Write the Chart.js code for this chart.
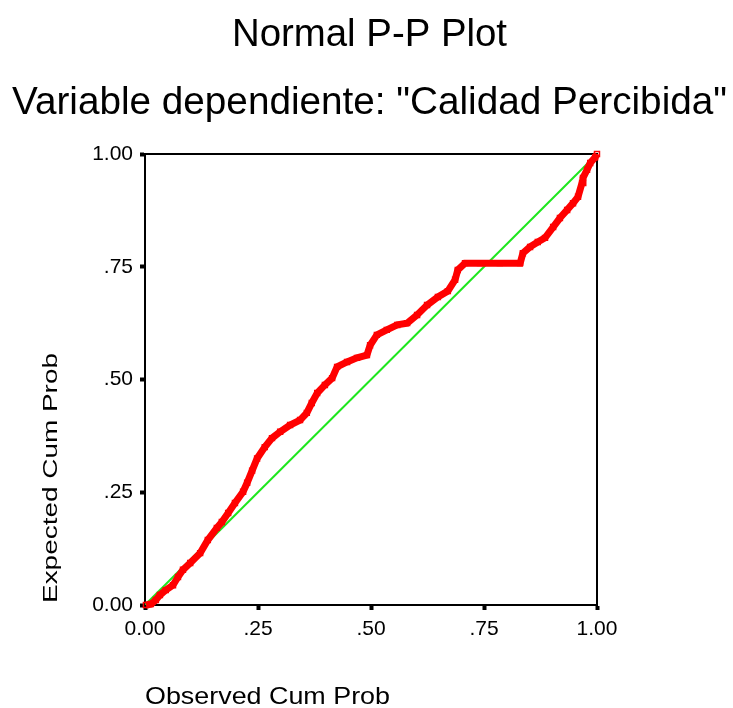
<!DOCTYPE html>
<html>
<head>
<meta charset="utf-8">
<script src="https://cdn.jsdelivr.net/npm/chart.js@4/dist/chart.umd.min.js"></script>
<style>
  html, body { margin: 0; padding: 0; background: #fff; }
  #wrap { width: 733px; height: 708px; }
</style>
</head>
<body>
<div id="wrap"><canvas id="pp"></canvas></div>
<script>
// Normal P-P Plot

const titleMain = 'Normal P-P Plot';
const titleSub = 'Variable dependiente: "Calidad Percibida"';
const xTitle = 'Observed Cum Prob';
const yTitle = 'Expected Cum Prob';

const tickValues = [0, 0.25, 0.5, 0.75, 1];
const tickLabels = ['0.00', '.25', '.50', '.75', '1.00'];

// observed cumulative probability (x)
const observedCum = [
  0.002, 0.013, 0.024, 0.033, 0.046, 0.062, 0.073, 0.084, 0.100, 0.122,
  0.139, 0.159, 0.170, 0.184, 0.199, 0.217, 0.226, 0.237, 0.248, 0.265,
  0.281, 0.299, 0.321, 0.343, 0.358, 0.369, 0.381, 0.398, 0.414, 0.425,
  0.447, 0.469, 0.491, 0.498, 0.513, 0.535, 0.558, 0.580, 0.602, 0.624,
  0.648, 0.670, 0.686, 0.692, 0.708, 0.741, 0.785, 0.830, 0.836, 0.852,
  0.869, 0.885, 0.903, 0.918, 0.934, 0.947, 0.958, 0.967, 0.969, 0.978,
  0.985, 0.996, 1.000
];
// expected cumulative probability (y)
const expectedCum = [
  0.000, 0.002, 0.011, 0.022, 0.033, 0.044, 0.062, 0.078, 0.093, 0.115,
  0.144, 0.171, 0.184, 0.204, 0.226, 0.251, 0.271, 0.298, 0.325, 0.350,
  0.370, 0.384, 0.399, 0.410, 0.426, 0.448, 0.470, 0.488, 0.503, 0.528,
  0.539, 0.548, 0.554, 0.576, 0.599, 0.610, 0.621, 0.625, 0.643, 0.665,
  0.683, 0.696, 0.721, 0.743, 0.758, 0.758, 0.758, 0.758, 0.780, 0.794,
  0.805, 0.814, 0.838, 0.858, 0.876, 0.891, 0.905, 0.936, 0.947, 0.965,
  0.980, 0.993, 1.000
];

const refX = [0, 1];
const refY = [0, 1];

const FONT = '"Liberation Sans", Arial, sans-serif';

// draws a text stretched to a given width
function fitText(ctx, txt, size, width){
  ctx.font = size + 'px ' + FONT;
  const w = ctx.measureText(txt).width;
  ctx.save();
  ctx.scale(width / w, 1);
  ctx.fillText(txt, 0, 0);
  ctx.restore();
}

const textPlugin = {
  id: 'spssText',
  beforeDatasetsDraw(chart){
    const { ctx, chartArea: a } = chart;
    ctx.save();
    ctx.strokeStyle = '#000';
    ctx.lineWidth = 2;
    ctx.strokeRect(a.left, a.top, a.right - a.left, a.bottom - a.top);
    ctx.restore();
  },
  afterDraw(chart){
    const ctx = chart.ctx;
    ctx.save();
    ctx.fillStyle = '#000';
    ctx.textBaseline = 'alphabetic';
    ctx.textAlign = 'left';

    ctx.save(); ctx.translate(232, 46); fitText(ctx, titleMain, 38, 275); ctx.restore();
    ctx.save(); ctx.translate(12, 114); fitText(ctx, titleSub, 38, 715); ctx.restore();

    ctx.save(); ctx.translate(145, 704); fitText(ctx, xTitle, 24, 245); ctx.restore();

    ctx.save(); ctx.translate(57, 603); ctx.rotate(-Math.PI / 2);
    fitText(ctx, yTitle, 20, 250); ctx.restore();

    ctx.restore();
  }
};

const axisCommon = {
  type: 'linear',
  min: 0,
  max: 1,
  border: { display: true, color: '#000', width: 2 },
  grid: {
    drawOnChartArea: false,
    drawTicks: true,
    color: '#000',
    tickLength: 5,
    tickWidth: 4,
    tickColor: '#000'
  },
  ticks: {
    stepSize: 0.25,
    color: '#000',
    font: { family: FONT, size: 21 },
    autoSkip: false,
    maxRotation: 0,
    callback: v => tickLabels[tickValues.indexOf(Math.round(v * 100) / 100)]
  }
};

new Chart(document.getElementById('pp'), {
  type: 'scatter',
  data: {
    datasets: [
      {
        label: 'observed',
        data: observedCum.map((x, i) => ({ x: x, y: expectedCum[i] })),
        showLine: true,
        borderColor: '#ff0000',
        borderWidth: 7,
        pointStyle: 'rect',
        pointRadius: 3.5,
        pointBorderWidth: 1.5,
        pointBorderColor: '#ff0000',
        pointBackgroundColor: 'rgba(255,0,0,0)',
        clip: false,
        order: 0
      },
      {
        label: 'reference',
        data: refX.map((x, i) => ({ x: x, y: refY[i] })),
        showLine: true,
        borderColor: '#1ee61e',
        borderWidth: 2,
        pointRadius: 0,
        order: 1
      }
    ]
  },
  options: {
    responsive: true,
    maintainAspectRatio: false,
    animation: false,
    layout: { padding: { top: 154, right: 136, left: 0, bottom: 0 } },
    plugins: {
      legend: { display: false },
      title: { display: false },
      tooltip: { enabled: false }
    },
    scales: {
      x: Object.assign({}, axisCommon, {
        ticks: Object.assign({}, axisCommon.ticks, { padding: 7 }),
        afterFit: s => { s.height = 103; }
      }),
      y: Object.assign({}, axisCommon, {
        ticks: Object.assign({}, axisCommon.ticks, { padding: 7 }),
        afterFit: s => { s.width = 145; }
      })
    }
  },
  plugins: [textPlugin]
});
</script>
</body>
</html>
